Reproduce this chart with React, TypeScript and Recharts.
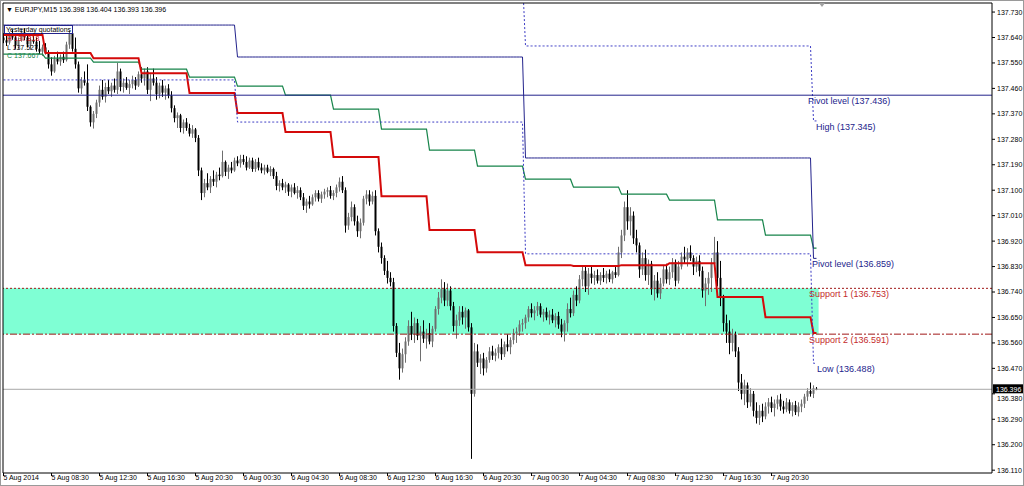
import {
  ComposedChart,
  Bar,
  Line,
  XAxis,
  YAxis,
  ReferenceLine,
  ReferenceArea,
  ReferenceDot,
} from "recharts";

// EURJPY M15, 5 Aug 2014 04:30 onwards: [open, high, low, close]
const ohlc: [number, number, number, number][] = [
  [137.640, 137.655, 137.620, 137.630], [137.630, 137.648, 137.610, 137.622], [137.622, 137.660, 137.615, 137.650], [137.650, 137.668, 137.632, 137.640],
  [137.640, 137.652, 137.600, 137.612], [137.612, 137.640, 137.598, 137.630], [137.630, 137.670, 137.625, 137.658], [137.658, 137.672, 137.630, 137.640],
  [137.640, 137.650, 137.605, 137.615], [137.615, 137.640, 137.600, 137.632], [137.632, 137.655, 137.618, 137.625], [137.625, 137.640, 137.590, 137.600],
  [137.600, 137.628, 137.582, 137.590], [137.590, 137.615, 137.575, 137.605], [137.605, 137.620, 137.580, 137.585], [137.585, 137.595, 137.530, 137.545],
  [137.545, 137.570, 137.505, 137.520], [137.520, 137.575, 137.515, 137.565], [137.565, 137.590, 137.545, 137.555], [137.555, 137.580, 137.540, 137.572],
  [137.572, 137.590, 137.550, 137.560], [137.560, 137.625, 137.555, 137.615], [137.615, 137.665, 137.600, 137.655], [137.655, 137.672, 137.590, 137.600],
  [137.600, 137.640, 137.530, 137.545], [137.545, 137.555, 137.445, 137.460], [137.460, 137.500, 137.440, 137.490], [137.490, 137.520, 137.470, 137.480],
  [137.480, 137.545, 137.380, 137.395], [137.395, 137.400, 137.325, 137.340], [137.340, 137.380, 137.318, 137.370], [137.370, 137.420, 137.355, 137.410],
  [137.410, 137.470, 137.395, 137.455], [137.455, 137.490, 137.420, 137.430], [137.430, 137.480, 137.410, 137.465], [137.465, 137.490, 137.440, 137.450],
  [137.450, 137.480, 137.430, 137.470], [137.470, 137.495, 137.445, 137.455], [137.455, 137.550, 137.440, 137.520], [137.520, 137.530, 137.450, 137.465],
  [137.465, 137.495, 137.445, 137.480], [137.480, 137.500, 137.455, 137.462], [137.462, 137.490, 137.440, 137.475], [137.475, 137.505, 137.460, 137.490],
  [137.490, 137.500, 137.455, 137.470], [137.470, 137.520, 137.465, 137.510], [137.510, 137.535, 137.480, 137.495], [137.495, 137.530, 137.470, 137.520],
  [137.520, 137.535, 137.440, 137.455], [137.455, 137.510, 137.415, 137.495], [137.495, 137.530, 137.470, 137.480], [137.480, 137.500, 137.420, 137.440],
  [137.440, 137.480, 137.425, 137.470], [137.470, 137.490, 137.430, 137.445], [137.445, 137.470, 137.420, 137.460], [137.460, 137.475, 137.425, 137.435],
  [137.435, 137.450, 137.375, 137.390], [137.390, 137.400, 137.340, 137.355], [137.355, 137.375, 137.320, 137.365], [137.365, 137.370, 137.305, 137.320],
  [137.320, 137.350, 137.300, 137.340], [137.340, 137.355, 137.310, 137.320], [137.320, 137.335, 137.290, 137.300], [137.300, 137.330, 137.285, 137.315],
  [137.315, 137.320, 137.270, 137.285], [137.285, 137.295, 137.150, 137.170], [137.170, 137.180, 137.065, 137.090], [137.090, 137.140, 137.075, 137.125],
  [137.125, 137.160, 137.100, 137.110], [137.110, 137.150, 137.090, 137.140], [137.140, 137.170, 137.115, 137.130], [137.130, 137.165, 137.110, 137.155],
  [137.155, 137.180, 137.135, 137.150], [137.150, 137.240, 137.145, 137.200], [137.200, 137.205, 137.150, 137.165], [137.165, 137.190, 137.140, 137.180],
  [137.180, 137.200, 137.160, 137.170], [137.170, 137.215, 137.165, 137.205], [137.205, 137.220, 137.185, 137.195], [137.195, 137.225, 137.180, 137.210],
  [137.210, 137.225, 137.190, 137.200], [137.200, 137.220, 137.170, 137.180], [137.180, 137.215, 137.175, 137.205], [137.205, 137.215, 137.165, 137.175],
  [137.175, 137.210, 137.165, 137.200], [137.200, 137.215, 137.170, 137.180], [137.180, 137.195, 137.160, 137.170], [137.170, 137.190, 137.155, 137.180],
  [137.180, 137.190, 137.160, 137.165], [137.165, 137.185, 137.150, 137.175], [137.175, 137.180, 137.140, 137.150], [137.150, 137.165, 137.100, 137.115],
  [137.115, 137.135, 137.095, 137.125], [137.125, 137.140, 137.100, 137.110], [137.110, 137.130, 137.090, 137.120], [137.120, 137.125, 137.080, 137.095],
  [137.095, 137.120, 137.075, 137.110], [137.110, 137.125, 137.085, 137.090], [137.090, 137.115, 137.070, 137.100], [137.100, 137.110, 137.065, 137.075],
  [137.075, 137.090, 137.030, 137.045], [137.045, 137.070, 137.020, 137.060], [137.060, 137.080, 137.035, 137.050], [137.050, 137.085, 137.045, 137.075],
  [137.075, 137.100, 137.060, 137.090], [137.090, 137.100, 137.060, 137.070], [137.070, 137.095, 137.055, 137.085], [137.085, 137.105, 137.070, 137.095],
  [137.095, 137.110, 137.075, 137.100], [137.100, 137.115, 137.070, 137.080], [137.080, 137.100, 137.065, 137.090], [137.090, 137.120, 137.075, 137.110],
  [137.110, 137.145, 137.095, 137.130], [137.130, 137.150, 137.090, 137.100], [137.100, 137.110, 136.950, 136.975], [136.975, 137.020, 136.960, 137.005],
  [137.005, 137.060, 136.990, 137.040], [137.040, 137.050, 136.975, 136.990], [136.990, 137.010, 136.935, 136.955], [136.955, 137.000, 136.930, 136.985],
  [136.985, 137.080, 136.975, 137.070], [137.070, 137.100, 137.050, 137.085], [137.085, 137.100, 137.045, 137.060], [137.060, 137.095, 137.050, 137.080],
  [137.080, 137.100, 136.940, 136.955], [136.955, 136.965, 136.880, 136.900], [136.900, 136.915, 136.840, 136.860], [136.860, 136.870, 136.800, 136.815],
  [136.815, 136.850, 136.770, 136.790], [136.790, 136.810, 136.760, 136.775], [136.775, 136.790, 136.600, 136.620], [136.620, 136.630, 136.510, 136.525],
  [136.525, 136.560, 136.430, 136.470], [136.470, 136.540, 136.455, 136.520], [136.520, 136.580, 136.490, 136.565], [136.565, 136.640, 136.550, 136.620],
  [136.620, 136.670, 136.570, 136.590], [136.590, 136.650, 136.560, 136.630], [136.630, 136.645, 136.570, 136.585], [136.585, 136.620, 136.495, 136.600],
  [136.600, 136.640, 136.560, 136.575], [136.575, 136.610, 136.540, 136.595], [136.595, 136.630, 136.555, 136.565], [136.565, 136.620, 136.545, 136.610],
  [136.610, 136.690, 136.600, 136.680], [136.680, 136.740, 136.660, 136.720], [136.720, 136.785, 136.700, 136.750], [136.750, 136.775, 136.690, 136.710],
  [136.710, 136.770, 136.690, 136.745], [136.745, 136.760, 136.675, 136.690], [136.690, 136.705, 136.600, 136.620], [136.620, 136.660, 136.575, 136.640],
  [136.640, 136.690, 136.620, 136.670], [136.670, 136.690, 136.625, 136.650], [136.650, 136.685, 136.610, 136.675], [136.675, 136.680, 136.600, 136.615],
  [136.615, 136.630, 136.150, 136.380], [136.380, 136.560, 136.370, 136.530], [136.530, 136.555, 136.475, 136.490], [136.490, 136.520, 136.450, 136.505],
  [136.505, 136.525, 136.445, 136.470], [136.470, 136.510, 136.455, 136.500], [136.500, 136.545, 136.490, 136.530], [136.530, 136.550, 136.500, 136.515],
  [136.515, 136.540, 136.495, 136.525], [136.525, 136.555, 136.505, 136.545], [136.545, 136.575, 136.500, 136.520], [136.520, 136.565, 136.510, 136.555],
  [136.555, 136.590, 136.530, 136.545], [136.545, 136.580, 136.520, 136.570], [136.570, 136.610, 136.555, 136.595], [136.595, 136.615, 136.560, 136.600],
  [136.600, 136.640, 136.585, 136.625], [136.625, 136.645, 136.600, 136.630], [136.630, 136.660, 136.610, 136.650], [136.650, 136.690, 136.635, 136.680],
  [136.680, 136.700, 136.650, 136.665], [136.665, 136.690, 136.640, 136.675], [136.675, 136.705, 136.655, 136.690], [136.690, 136.700, 136.650, 136.660],
  [136.660, 136.680, 136.635, 136.670], [136.670, 136.685, 136.640, 136.650], [136.650, 136.675, 136.625, 136.660], [136.660, 136.680, 136.630, 136.640],
  [136.640, 136.665, 136.615, 136.655], [136.655, 136.670, 136.610, 136.625], [136.625, 136.645, 136.580, 136.600], [136.600, 136.640, 136.565, 136.630],
  [136.630, 136.700, 136.600, 136.680], [136.680, 136.720, 136.650, 136.665], [136.665, 136.745, 136.655, 136.730], [136.730, 136.760, 136.690, 136.710],
  [136.710, 136.800, 136.700, 136.785], [136.785, 136.830, 136.760, 136.815], [136.815, 136.835, 136.740, 136.760], [136.760, 136.825, 136.730, 136.805],
  [136.805, 136.830, 136.770, 136.790], [136.790, 136.815, 136.765, 136.800], [136.800, 136.820, 136.770, 136.780], [136.780, 136.810, 136.765, 136.800],
  [136.800, 136.825, 136.775, 136.790], [136.790, 136.815, 136.770, 136.805], [136.805, 136.820, 136.775, 136.785], [136.785, 136.815, 136.770, 136.810],
  [136.810, 136.830, 136.790, 136.800], [136.800, 136.900, 136.795, 136.880], [136.880, 136.960, 136.860, 136.940], [136.940, 137.060, 136.920, 137.040],
  [137.040, 137.100, 136.960, 136.990], [136.990, 137.040, 136.940, 137.010], [137.010, 137.025, 136.910, 136.930], [136.930, 136.960, 136.880, 136.905],
  [136.905, 136.915, 136.790, 136.820], [136.820, 136.880, 136.800, 136.860], [136.860, 136.890, 136.780, 136.800], [136.800, 136.855, 136.765, 136.840],
  [136.840, 136.850, 136.730, 136.750], [136.750, 136.800, 136.710, 136.780], [136.780, 136.810, 136.720, 136.735], [136.735, 136.790, 136.715, 136.770],
  [136.770, 136.835, 136.760, 136.820], [136.820, 136.840, 136.770, 136.785], [136.785, 136.830, 136.765, 136.810], [136.810, 136.860, 136.790, 136.845],
  [136.845, 136.855, 136.760, 136.780], [136.780, 136.850, 136.770, 136.830], [136.830, 136.880, 136.820, 136.865], [136.865, 136.900, 136.840, 136.855],
  [136.855, 136.895, 136.830, 136.880], [136.880, 136.905, 136.850, 136.860], [136.860, 136.870, 136.800, 136.830], [136.830, 136.865, 136.810, 136.850],
  [136.850, 136.870, 136.795, 136.815], [136.815, 136.830, 136.720, 136.745], [136.745, 136.790, 136.690, 136.770], [136.770, 136.810, 136.730, 136.790],
  [136.790, 136.860, 136.740, 136.840], [136.840, 136.935, 136.820, 136.880], [136.880, 136.920, 136.760, 136.790], [136.790, 136.850, 136.690, 136.720],
  [136.720, 136.730, 136.600, 136.630], [136.630, 136.660, 136.560, 136.600], [136.600, 136.640, 136.520, 136.560], [136.560, 136.610, 136.530, 136.590],
  [136.590, 136.600, 136.510, 136.530], [136.530, 136.545, 136.390, 136.420], [136.420, 136.450, 136.360, 136.380], [136.380, 136.430, 136.340, 136.410],
  [136.410, 136.420, 136.330, 136.350], [136.350, 136.400, 136.335, 136.380], [136.380, 136.390, 136.300, 136.320], [136.320, 136.350, 136.275, 136.295],
  [136.295, 136.340, 136.270, 136.320], [136.320, 136.345, 136.280, 136.300], [136.300, 136.350, 136.290, 136.335], [136.335, 136.365, 136.310, 136.350],
  [136.350, 136.370, 136.315, 136.330], [136.330, 136.360, 136.300, 136.345], [136.345, 136.375, 136.325, 136.360], [136.360, 136.380, 136.320, 136.335],
  [136.335, 136.355, 136.310, 136.325], [136.325, 136.365, 136.315, 136.350], [136.350, 136.360, 136.310, 136.320], [136.320, 136.350, 136.300, 136.340],
  [136.340, 136.355, 136.305, 136.315], [136.315, 136.350, 136.300, 136.335], [136.335, 136.360, 136.315, 136.345], [136.345, 136.380, 136.330, 136.370],
  [136.370, 136.400, 136.355, 136.390], [136.390, 136.420, 136.370, 136.380], [136.380, 136.410, 136.365, 136.400], [136.398, 136.404, 136.393, 136.396],
];

// 4-hour step indicators (first block runs to 08:00, then every 16 bars)
const greenLevels = [
  137.581, 137.567, 137.553, 137.528, 137.5, 137.468, 137.436, 137.387, 137.316,
  137.242, 137.185, 137.139, 137.111, 137.086, 137.065, 136.995, 136.941, 136.895,
];
const redLevels = [
  137.649, 137.585, 137.567, 137.514, 137.444, 137.373, 137.306, 137.217, 137.079,
  136.959, 136.881, 136.835, 136.832, 136.835, 136.842, 136.722, 136.651, 136.595,
];

// daily levels (5, 6, 7, 8 Aug)
const dayStarts = [0, 78, 174, 270];
const dayPivot = [137.684, 137.571, 137.214, 136.859];
const dayHigh = [137.85, 137.85, 137.61, 137.345];
const dayLow = [137.49, 137.341, 136.875, 136.488];

const pivotLevel = 137.436;
const support1 = 136.753;
const support2 = 136.591;
const lastPrice = 136.396;

const timeTicks = [0, 16, 32, 48, 64, 80, 96, 112, 128, 144, 160, 176, 192, 208, 224, 240, 256];
const timeLabels = [
  "5 Aug 2014", "5 Aug 08:30", "5 Aug 12:30", "5 Aug 16:30", "5 Aug 20:30",
  "6 Aug 00:30", "6 Aug 04:30", "6 Aug 08:30", "6 Aug 12:30", "6 Aug 16:30",
  "6 Aug 20:30", "7 Aug 00:30", "7 Aug 04:30", "7 Aug 08:30", "7 Aug 12:30",
  "7 Aug 16:30", "7 Aug 20:30",
];
const priceTicks = [
  137.73, 137.64, 137.55, 137.46, 137.37, 137.28, 137.19, 137.1, 137.01, 136.92,
  136.83, 136.74, 136.65, 136.56, 136.47, 136.38, 136.29, 136.2, 136.11,
];

const FONT = "'Liberation Sans', Arial, sans-serif";
const NAVY = "#23238c";
const DOTBLUE = "#3b3bc4";
const LRED = "#c42b2b";

const X_MIN = -0.167;
const X_MAX = 329.5;
const Y_MIN = 136.1;
const Y_MAX = 137.762;

const data = ohlc.map(([o, h, l, c], i) => {
  const day = dayStarts.filter((s) => i >= s).length - 1;
  const blk = Math.floor((i + 2) / 16);
  return {
    i,
    range: [l, h],
    o,
    h,
    l,
    c,
    green: greenLevels[blk],
    red: redLevels[blk],
    pivot: dayPivot[day],
    hi: dayHigh[day],
    lo: dayLow[day],
  };
});

const rightTags = [
  { text: "Pivot level (137.436)", x: 268.2, y: pivotLevel, color: NAVY },
  { text: "High (137.345)", x: 270.8, y: dayHigh[3], color: NAVY },
  { text: "Pivot level (136.859)", x: 269.5, y: dayPivot[3], color: NAVY },
  { text: "Support 1 (136.753)", x: 268.5, y: support1, color: LRED },
  { text: "Support 2 (136.591)", x: 268.5, y: support2, color: LRED },
  { text: "Low (136.488)", x: 271.2, y: dayLow[3], color: NAVY },
];

function Candle(props: any) {
  const { x, y, width, height, payload } = props;
  if (height == null || isNaN(y)) return null;
  const { o, h, l, c } = payload;
  const mid = Math.floor(x + width / 2) + 0.5;
  const k = height / (h - l || 1);
  const yo = y + (h - o) * k;
  const yc = y + (h - c) * k;
  const top = Math.min(yo, yc);
  const bh = Math.max(Math.abs(yc - yo), 1);
  const bull = c >= o;
  const col = bull ? "#6e6e6e" : "#000";
  return (
    <g>
      <line x1={mid} x2={mid} y1={y} y2={y + height} stroke={col} strokeWidth={1} />
      <rect x={mid - 1} y={top} width={2} height={bh} fill={col} />
    </g>
  );
}

function TimeTick(props: any) {
  const { x, y, payload } = props;
  const label = timeLabels[timeTicks.indexOf(payload.value)];
  return (
    <text x={x} y={y + 4} textAnchor="start" fontSize={7} fontFamily={FONT} fill="#000">
      {label}
    </text>
  );
}

// the last-price box sits on top of the 136.380 tick, whose label peeks out below it
function PriceTick(props: any) {
  const { x, y, payload } = props;
  const shift = Math.abs(payload.value - 136.38) < 1e-6 ? 5 : 0;
  return (
    <text x={x} y={y + shift} dy="0.355em" textAnchor="start" fontSize={7} fontFamily={FONT} fill="#000">
      {payload.value.toFixed(3)}
    </text>
  );
}

const tagShape = (text: string, color: string) => (p: any) => (
  <text x={p.cx} y={p.cy + 9} fontSize={9} fontFamily={FONT} fill={color}>
    {text}
  </text>
);

const priceBox = (p: any) => (
  <g>
    <rect x={p.cx + 1} y={p.cy - 5} width={30} height={9} fill="#000" />
    <text x={p.cx + 4} y={p.cy + 2.5} fontSize={7} fontFamily={FONT} fill="#fff">
      {lastPrice.toFixed(3)}
    </text>
  </g>
);

export default function App() {
  return (
    <div style={{ position: "absolute", left: 0, top: 0, width: 1024, height: 486, background: "#fff" }}>
      <ComposedChart
        width={1024}
        height={486}
        data={data}
        margin={{ top: 3, right: 0, left: 3, bottom: 0 }}
      >
        <XAxis
          dataKey="i"
          type="number"
          domain={[X_MIN, X_MAX]}
          allowDataOverflow
          ticks={timeTicks}
          tick={<TimeTick />}
          tickSize={3}
          tickMargin={0}
          height={13}
          axisLine={{ stroke: "#000" }}
          tickLine={{ stroke: "#000" }}
          interval={0}
        />
        <YAxis
          orientation="right"
          type="number"
          domain={[Y_MIN, Y_MAX]}
          allowDataOverflow
          ticks={priceTicks}
          width={32}
          tickSize={3}
          tickMargin={2}
          interval={0}
          tick={<PriceTick />}
          axisLine={{ stroke: "#000" }}
          tickLine={{ stroke: "#000" }}
        />
        <ReferenceArea
          x1={X_MIN}
          x2={271.7}
          y1={support2}
          y2={support1}
          fill="#7fffd4"
          fillOpacity={1}
          stroke="none"
        />
        <ReferenceLine y={lastPrice} stroke="#a8a8a8" />
        <Bar dataKey="range" barSize={2} shape={<Candle />} isAnimationActive={false} />
        <Line type="linear" dataKey="green" stroke="#16844a" strokeWidth={1.2} dot={false} isAnimationActive={false} />
        <Line type="linear" dataKey="red" stroke="#d40a0a" strokeWidth={2} dot={false} isAnimationActive={false} />
        <Line type="linear" dataKey="pivot" stroke={NAVY} strokeWidth={1} dot={false} isAnimationActive={false} />
        <Line type="linear" dataKey="hi" stroke={DOTBLUE} strokeWidth={1} strokeDasharray="2 2" dot={false} isAnimationActive={false} />
        <Line type="linear" dataKey="lo" stroke={DOTBLUE} strokeWidth={1} strokeDasharray="2 2" dot={false} isAnimationActive={false} />
        <ReferenceLine y={pivotLevel} stroke={NAVY} />
        <ReferenceLine y={support1} stroke="#a01818" strokeDasharray="2 2" />
        <ReferenceLine y={support2} stroke="#a01818" strokeDasharray="7 2 2 2" />
        <ReferenceLine x={X_MIN} stroke="#000" />
        <ReferenceLine y={Y_MAX} stroke="#000" />
        {rightTags.map((t) => (
          <ReferenceDot key={t.text} x={t.x} y={t.y} r={0} shape={tagShape(t.text, t.color)} />
        ))}
        <ReferenceDot x={X_MAX} y={lastPrice} r={0} shape={priceBox} />
      </ComposedChart>
      <svg
        width={1024}
        height={486}
        style={{ position: "absolute", left: 0, top: 0, pointerEvents: "none" }}
      >
        <text x={6} y={12} fontSize={7} fontFamily={FONT} fill="#000">
          {"\u25BC EURJPY,M15  136.398 136.404 136.393 136.396"}
        </text>
        <rect x={4.5} y={25.5} width={68} height={8} fill="none" stroke={NAVY} strokeWidth={1} />
        <text x={6} y={32} fontSize={7} fontFamily={FONT} fill="#000">Yesterday quotations</text>
        <text x={7} y={41} fontSize={7} fontFamily={FONT} fill="#d40a0a">H 137.818</text>
        <text x={7} y={50} fontSize={7} fontFamily={FONT} fill="#000">L 137.527</text>
        <text x={7} y={58} fontSize={7} fontFamily={FONT} fill="#16844a">C 137.667</text>
        <polygon points="819,3 825,3 822,7" fill="#a0a0a0" />
        <rect x={0.5} y={0.5} width={1023} height={485} fill="none" stroke="#9a9a9a" />
      </svg>
    </div>
  );
}
